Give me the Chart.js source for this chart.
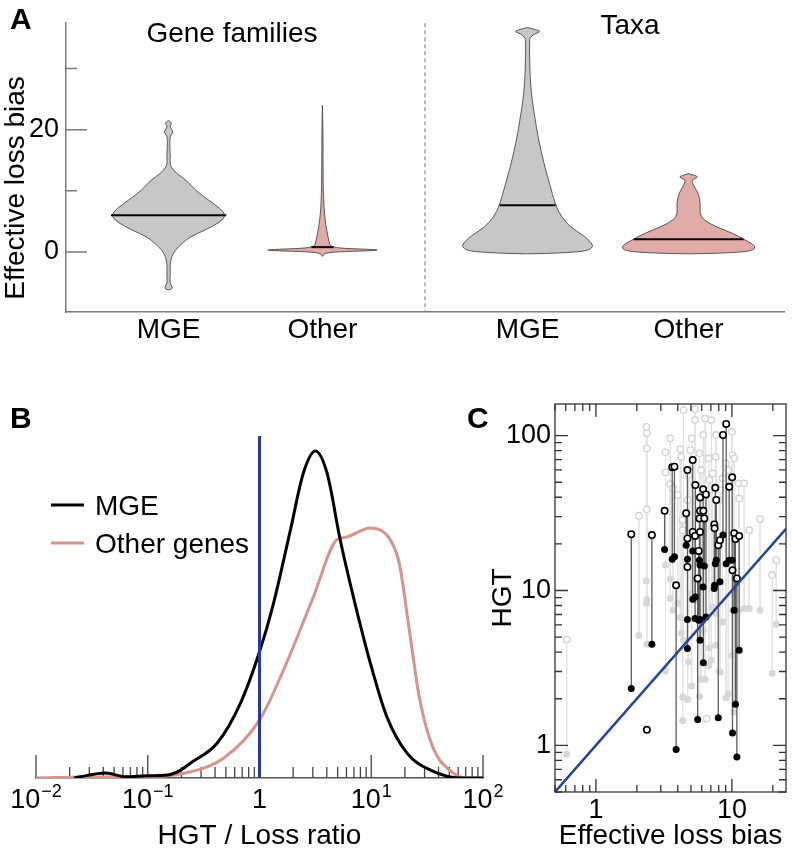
<!DOCTYPE html>
<html>
<head>
<meta charset="utf-8">
<script src="https://cdn.jsdelivr.net/npm/chart.js@4.4.1/dist/chart.umd.min.js"></script>
<style>
body{margin:0;background:#fff}
#wrap{position:relative;width:792px;height:853px;overflow:hidden;background:#fff}
canvas{position:absolute}
</style>
</head>
<body>
<div id="wrap">
<canvas id="panelA" width="792" height="360" style="left:0px;top:0px"></canvas>
<canvas id="panelB" width="510" height="473" style="left:0px;top:380px"></canvas>
<canvas id="panelC" width="332" height="473" style="left:460px;top:380px"></canvas>
</div>
<script>
// ---------- A: effective loss bias violins
const violinGroups = ['MGE', 'Other', 'MGE', 'Other'];
const violinPos = [1, 2.5, 4.5, 6.07];
const violinMedian = [6.0, 0.8, 7.64, 2.11];
const aTitles = ['Gene families', 'Taxa'];
const aTicks = [0, 10, 20, 30];
const aTickLabels = ['0', '', '20', ''];

// levels (top -> bottom) and half widths in x units
const famMgeLevel = [21.5, 21.1, 20.6, 20.2, 19.6, 19.0, 18.2, 16.6, 15.5, 14.7, 13.9, 12.8, 11.7, 10.1, 8.5, 7.1, 6.0, 4.9, 3.6, 2.5, 1.4, 0.3, -0.8, -2.4, -3.5, -5.1, -5.9, -6.3];
const famMgeWidth = [0, .039, .010, .024, .047, .015, .012, .013, .018, .013, .022, .081, .178, .260, .390, .504, .562, .504, .358, .211, .130, .065, .026, .013, .018, .010, .047, 0];
const famOtherLevel = [24, 20, 15, 10.6, 8.5, 6.3, 4.1, 2.5, 1.4, 0.86, 0.6, 0.45, 0.33, 0.2, 0.05, -0.2, -0.5, -0.76];
const famOtherWidth = [0, .005, .006, .008, .012, .019, .036, .054, .068, .081, .195, .439, .565, .439, .146, .019, .010, 0];
const taxaMgeLevel = [36.7, 36.3, 36.0, 35.6, 35.0, 34.5, 32.8, 30.1, 27.4, 24.7, 22, 19.3, 16.6, 13.9, 11.2, 7.6, 5.7, 4.1, 2.8, 1.7, 0.86, 0.2, -0.1, -0.35];
const taxaMgeWidth = [0, .097, .127, .058, .024, .019, .019, .022, .029, .046, .071, .097, .130, .169, .214, .273, .331, .416, .536, .614, .643, .585, .390, 0];
const taxaOtherLevel = [12.8, 12.5, 12.25, 11.9, 11.7, 10.6, 9.5, 7.9, 6.3, 5.2, 4.1, 3.0, 2.1, 1.4, 0.86, 0.2, -0.1, -0.35];
const taxaOtherWidth = [0, .068, .093, .049, .027, .058, .097, .117, .107, .146, .273, .439, .536, .614, .653, .624, .439, 0];

// ---------- B: HGT / loss ratio densities
const bSeriesNames = ['MGE', 'Other genes'];
const bMgeRatio = [0.022, 0.025, 0.042, 0.063, 0.1, 0.15, 0.197, 0.242, 0.419, 0.676, 1, 1.33, 1.89, 2.47, 3.16, 4.02, 5.28, 6.92, 9.8, 13.8, 20.9, 33.9, 63, 100];
const bMgeDensity = [0, 0.004, 0.015, 0.004, 0.007, 0.009, 0.024, 0.046, 0.107, 0.229, 0.386, 0.532, 0.758, 0.933, 1.0, 0.933, 0.728, 0.554, 0.352, 0.187, 0.076, 0.024, 0, 0];
const bOtherRatio = [0.01, 0.032, 0.1, 0.242, 0.479, 1, 1.64, 3.03, 4.9, 6.03, 9.77, 14.8, 17.8, 21.9, 26.9, 35.5, 50.1, 70.8, 100];
const bOtherDensity = [0, 0.003, 0.004, 0.019, 0.061, 0.177, 0.33, 0.553, 0.728, 0.737, 0.765, 0.728, 0.657, 0.453, 0.248, 0.095, 0.024, 0, 0];
const bTicks = [0.01, 0.1, 1, 10, 100];
const bTickLabels = ['10^-2', '10^-1', '1', '10^1', '10^2'];

// ---------- C: HGT vs effective loss bias
const cMgeBias = [1.82, 2.58, 3.20, 3.64, 3.78, 3.89, 4.61, 4.71, 4.71, 4.71, 5.15, 5.15, 5.36, 5.39, 5.60, 5.70, 5.77, 5.83, 5.83, 5.83, 6.14, 6.17, 6.27, 6.45, 7.42, 7.46, 7.55, 7.68, 7.94, 8.17, 8.60, 9.08, 9.56, 10.05, 10.10, 10.39, 10.62, 10.88, 11.31, 2.37];
const cMgeHgtOpen = [23.1, 22.8, 32.7, 62.4, 63.0, 10.8, 31.5, 59.9, 21.7, 14.2, 69.5, 23.9, 22.5, 47.9, 11.96, 18.0, 29.2, 39.9, 32.7, 23.9, 45.0, 32.7, 29.2, 41.7, 26.7, 25.2, 46.0, 38.4, 19.6, 21.1, 100.9, 118.9, 46.7, 53.8, 13.5, 23.4, 21.5, 11.96, 22.5, 1.26];
const cMgeHgtFilled = [2.33, 4.50, 18.4, 15.9, 16.5, 0.94, 19.6, 15.9, 6.49, 4.22, 18.0, 8.79, 6.59, 9.09, 1.47, 6.43, 15.7, 14.6, 6.49, 4.77, 10.55, 3.42, 14.4, 6.75, 10.3, 10.8, 14.9, 15.7, 1.51, 11.4, 22.8, 14.9, 15.7, 15.7, 1.20, 7.46, 1.84, 0.84, 4.11, null];
const cOtherBias = [0.61, 2.07, 2.35, 2.37, 2.37, 2.36, 3.25, 3.25, 3.52, 3.52, 3.68, 4.00, 4.17, 4.24, 4.35, 4.35, 4.73, 4.81, 4.95, 5.06, 5.36, 5.36, 5.77, 5.93, 6.17, 6.35, 6.52, 6.74, 6.82, 7.21, 7.59, 7.64, 8.07, 8.21, 8.54, 9.04, 9.40, 10.0, 10.1, 10.4, 11.2, 11.3, 12.3, 13.4, 16.1, 19.8, 21.2, 4.40, 7.06];
const cOtherHgtOpen = [4.82, 30.4, 114, 103.5, 82.8, 33.5, 78, 57.9, 96, 48.7, 45.6, 41.3, 81.9, 73, 28.5, 24.5, 38.3, 55.6, 80.7, 96, 148, 126, 76.8, 60, 101, 129, 1.49, 71.3, 51.6, 57, 73, 101, 38.3, 44.5, 53, 66.2, 60, 106, 74.9, 71.3, 49.2, 39.3, 49.2, 24.5, 28.9, 12.6, 15.7, 146, 126];
const cOtherHgtFilled = [0.875, 5.12, 11.5, 8.75, 4.50, 8.24, 14.6, 3.02, 11.8, 8.87, 7.46, 8.24, 6.69, 5.27, 2.05, 1.45, 1.98, 3.46, 9.56, 2.42, 11.7, 8.66, 2.07, 2.67, 5.54, 2.67, null, 3.25, 4.26, 7.83, 4.43, 7.10, 3.01, 2.98, 6.27, 2.03, 2.16, 3.82, 7.46, 1.64, 7.46, 4.16, 7.65, 7.65, 7.46, 2.92, 6.06, 4.77, 3.54];
const cTicksX = [1, 10];
const cTickLabelsX = ['1', '10'];
const cTicksY = [1, 10, 100];
const cTickLabelsY = ['1', '10', '100'];

const FAM = '"Liberation Sans", Arial, sans-serif';
const font = (s, w) => (w || '') + ' ' + s + 'px ' + FAM;
Chart.defaults.font.family = FAM;
Chart.defaults.color = '#000';

// helpers
function logTicks(min, max) {
  const out = [];
  for (let d = -3; d <= 3; d++) for (let m = 1; m <= 9; m++) {
    const v = m * Math.pow(10, d);
    if (v >= min * 0.999 && v <= max * 1.001) out.push({v: v, major: m === 1});
  }
  return out;
}

function textPlugin(items) {
  return {
    id: 'texts',
    afterDraw(chart) {
      const ctx = chart.ctx;
      items.forEach(t => {
        ctx.save();
        ctx.font = t.font;
        ctx.fillStyle = '#000';
        ctx.textAlign = t.align || 'left';
        ctx.textBaseline = t.baseline || 'alphabetic';
        ctx.translate(t.x, t.y);
        if (t.rotate) ctx.rotate(t.rotate);
        ctx.fillText(t.text, 0, 0);
        ctx.restore();
      });
    }
  };
}

function smoothPath(ctx, pts) {
  ctx.moveTo(pts[0][0], pts[0][1]);
  for (let i = 1; i < pts.length - 1; i++) {
    const mx = (pts[i][0] + pts[i + 1][0]) / 2, my = (pts[i][1] + pts[i + 1][1]) / 2;
    ctx.quadraticCurveTo(pts[i][0], pts[i][1], mx, my);
  }
  ctx.lineTo(pts[pts.length - 1][0], pts[pts.length - 1][1]);
}

function widthAt(level, width, v) {
  for (let i = 0; i < level.length - 1; i++) {
    if (level[i] >= v && level[i + 1] <= v) {
      const t = (level[i] - v) / (level[i] - level[i + 1]);
      return width[i] + t * (width[i + 1] - width[i]);
    }
  }
  return 0;
}

// ---------- panel A
const violins = [
  {level: famMgeLevel, width: famMgeWidth, fill: '#c9c7c5'},
  {level: famOtherLevel, width: famOtherWidth, fill: '#dfaca7'},
  {level: taxaMgeLevel, width: taxaMgeWidth, fill: '#c9c7c5'},
  {level: taxaOtherLevel, width: taxaOtherWidth, fill: '#dfaca7'}
];

const violinPlugin = {
  id: 'violins',
  beforeDatasetsDraw(chart) {
    const {ctx, scales: {x, y}} = chart;
    const unit = x.getPixelForValue(1) - x.getPixelForValue(0);
    ctx.save();
    violins.forEach((v, k) => {
      const cx = x.getPixelForValue(violinPos[k]);
      const pts = [];
      v.level.forEach((l, i) => pts.push([cx + v.width[i] * unit, y.getPixelForValue(l)]));
      for (let i = v.level.length - 2; i >= 0; i--) pts.push([cx - v.width[i] * unit, y.getPixelForValue(v.level[i])]);
      ctx.beginPath();
      smoothPath(ctx, pts);
      ctx.closePath();
      ctx.fillStyle = v.fill;
      ctx.fill();
      ctx.strokeStyle = '#4a4a4a';
      ctx.lineWidth = 0.9;
      ctx.stroke();
      const mw = widthAt(v.level, v.width, violinMedian[k]) * unit;
      const my = y.getPixelForValue(violinMedian[k]);
      ctx.beginPath();
      ctx.moveTo(cx - mw, my);
      ctx.lineTo(cx + mw, my);
      ctx.strokeStyle = '#000';
      ctx.lineWidth = 2;
      ctx.stroke();
    });
    ctx.restore();
  }
};

const aAxisDecor = {
  id: 'aAxisDecor',
  afterDraw(chart) {
    const {ctx, chartArea: a, scales: {x, y}} = chart;
    ctx.save();
    ctx.strokeStyle = '#7a7a7a';
    ctx.lineWidth = 1.5;
    ctx.beginPath();
    aTicks.forEach((v, i) => {
      const py = y.getPixelForValue(v);
      ctx.moveTo(a.left, py);
      ctx.lineTo(a.left + (aTickLabels[i] ? 21 : 11), py);
    });
    ctx.stroke();
    // divider between gene families and taxa
    const sx = x.getPixelForValue((violinPos[1] + violinPos[2]) / 2);
    ctx.setLineDash([4, 3]);
    ctx.strokeStyle = '#8a8a8a';
    ctx.lineWidth = 1.2;
    ctx.beginPath();
    ctx.moveTo(sx, a.top);
    ctx.lineTo(sx, a.bottom);
    ctx.stroke();
    ctx.restore();
  }
};

new Chart(document.getElementById('panelA'), {
  type: 'scatter',
  data: {datasets: []},
  options: {
    responsive: false,
    animation: false,
    layout: {padding: {left: 0, top: 22, right: 8, bottom: 0}},
    plugins: {legend: {display: false}, tooltip: {enabled: false}},
    scales: {
      x: {
        type: 'linear', min: 0, max: 7,
        grid: {display: false, drawTicks: false},
        border: {color: '#7a7a7a', width: 1.5},
        afterBuildTicks: s => { s.ticks = violinPos.map(v => ({value: v})); },
        afterFit: s => { s.height = 48; },
        ticks: {padding: 1, autoSkip: false, maxRotation: 0, font: {size: 28}, callback: (v, i) => violinGroups[i]}
      },
      y: {
        type: 'linear', min: -9.8, max: 37.4,
        grid: {display: false, drawTicks: false},
        border: {color: '#7a7a7a', width: 1.5},
        afterBuildTicks: s => { s.ticks = aTicks.map(v => ({value: v})); },
        afterFit: s => { s.width = 66; },
        ticks: {padding: 7, autoSkip: false, font: {size: 27}, callback: (v, i) => aTickLabels[i]}
      }
    }
  },
  plugins: [violinPlugin, aAxisDecor, textPlugin([
    {text: 'A', x: 10, y: 29, font: font(30, 'bold')},
    {text: aTitles[0], x: 232, y: 42, font: font(28), align: 'center'},
    {text: aTitles[1], x: 630, y: 34, font: font(28), align: 'center'},
    {text: 'Effective loss bias', x: 16, y: 188, font: font(28), align: 'center', baseline: 'middle', rotate: -Math.PI / 2}
  ])]
});

// ---------- panel B
const bColors = ['#000000', '#d4958f'];

const bDecor = {
  id: 'bDecor',
  beforeDatasetsDraw(chart) {
    const {ctx, chartArea: a, scales: {x}} = chart;
    ctx.save();
    ctx.strokeStyle = '#444';
    ctx.lineWidth = 1.3;
    ctx.beginPath();
    logTicks(bTicks[0], bTicks[bTicks.length - 1]).forEach(t => {
      const p = x.getPixelForValue(t.v);
      ctx.moveTo(p, a.bottom);
      ctx.lineTo(p, a.bottom - (t.major ? 23 : 11));
    });
    ctx.stroke();
    ctx.restore();
  },
  afterDatasetsDraw(chart) {
    const {ctx, chartArea: a, scales: {x}} = chart;
    ctx.save();
    // ratio = 1 reference line
    const p1 = x.getPixelForValue(1);
    ctx.strokeStyle = '#2a3b8f';
    ctx.lineWidth = 3;
    ctx.beginPath();
    ctx.moveTo(p1, a.top);
    ctx.lineTo(p1, a.bottom);
    ctx.stroke();
    // tick labels with exponents
    ctx.fillStyle = '#000';
    ctx.textAlign = 'left';
    ctx.textBaseline = 'alphabetic';
    bTicks.forEach((v, i) => {
      const parts = bTickLabels[i].split('^');
      const base = parts[0];
      const e = parts[1] ? parts[1].replace('-', '\u2212') : '';
      ctx.font = font(27);
      const wb = ctx.measureText(base).width;
      ctx.font = font(18);
      const we = e ? ctx.measureText(e).width + 1 : 0;
      const left = x.getPixelForValue(v) - (wb + we) / 2;
      ctx.font = font(27);
      ctx.fillText(base, left, a.bottom + 30);
      if (e) {
        ctx.font = font(18);
        ctx.fillText(e, left + wb + 1, a.bottom + 19);
      }
    });
    // legend
    bSeriesNames.forEach((name, i) => {
      const ly = a.top + 69 + i * 38;
      ctx.strokeStyle = bColors[i];
      ctx.lineWidth = 3;
      ctx.beginPath();
      ctx.moveTo(51, ly);
      ctx.lineTo(84, ly);
      ctx.stroke();
      ctx.font = font(28);
      ctx.fillText(name, 95, ly + 10);
    });
    ctx.restore();
  }
};

new Chart(document.getElementById('panelB'), {
  type: 'scatter',
  data: {
    datasets: [
      {label: bSeriesNames[0], data: bMgeRatio.map((r, i) => ({x: r, y: bMgeDensity[i]})), showLine: true, borderColor: bColors[0], borderWidth: 3, pointRadius: 0, cubicInterpolationMode: 'monotone'},
      {label: bSeriesNames[1], data: bOtherRatio.map((r, i) => ({x: r, y: bOtherDensity[i]})), showLine: true, borderColor: bColors[1], borderWidth: 3, pointRadius: 0, cubicInterpolationMode: 'monotone'}
    ]
  },
  options: {
    responsive: false,
    animation: false,
    layout: {padding: {left: 36, right: 27, top: 56, bottom: 0}},
    plugins: {legend: {display: false}, tooltip: {enabled: false}},
    scales: {
      x: {
        type: 'logarithmic', min: bTicks[0], max: bTicks[bTicks.length - 1],
        grid: {display: false, drawTicks: false},
        border: {color: '#555', width: 1.5},
        ticks: {display: false},
        afterFit: s => { s.height = 75; },
        title: {display: true, text: 'HGT / Loss ratio', font: {size: 28}, padding: {top: 0, bottom: 0}}
      },
      y: {type: 'linear', display: false, min: 0, max: 1.046}
    }
  },
  plugins: [bDecor, textPlugin([
    {text: 'B', x: 10, y: 48, font: font(30, 'bold')}
  ])]
});

// ---------- panel C
const pairs = (xs, hi, lo) => xs.flatMap((x, i) => lo[i] == null ? [] : [{x: x, y: hi[i]}, {x: x, y: lo[i]}, {x: x, y: null}]);
const pts = (xs, ys) => xs.map((x, i) => ({x: x, y: ys[i]})).filter(p => p.y != null);
const cMin = 0.5, cMax = 25;

const cDecor = {
  id: 'cDecor',
  afterDraw(chart) {
    const {ctx, chartArea: a, scales: {x, y}} = chart;
    ctx.save();
    ctx.strokeStyle = '#333';
    ctx.lineWidth = 1.3;
    ctx.strokeRect(a.left, a.top, a.right - a.left, a.bottom - a.top);
    ctx.beginPath();
    logTicks(x.min, x.max).forEach(t => {
      const p = x.getPixelForValue(t.v), l = t.major ? 13 : 7;
      ctx.moveTo(p, a.bottom); ctx.lineTo(p, a.bottom - l);
      ctx.moveTo(p, a.top); ctx.lineTo(p, a.top + l);
    });
    logTicks(y.min, y.max).forEach(t => {
      const p = y.getPixelForValue(t.v), l = t.major ? 13 : 7;
      ctx.moveTo(a.left, p); ctx.lineTo(a.left + l, p);
      ctx.moveTo(a.right, p); ctx.lineTo(a.right - l, p);
    });
    ctx.stroke();
    ctx.restore();
  }
};

new Chart(document.getElementById('panelC'), {
  type: 'scatter',
  data: {
    datasets: [
      {data: [{x: cMin, y: cMin}, {x: cMax, y: cMax}], showLine: true, borderColor: '#2c4591', borderWidth: 2.5, pointRadius: 0},
      {data: pts(cMgeBias, cMgeHgtOpen), pointRadius: 3.2, borderWidth: 1.6, borderColor: '#000', backgroundColor: '#fff'},
      {data: pts(cMgeBias, cMgeHgtFilled), pointRadius: 3.5, borderWidth: 0, backgroundColor: '#000'},
      {data: pairs(cMgeBias, cMgeHgtOpen, cMgeHgtFilled), showLine: true, spanGaps: false, borderColor: '#5e5e5e', borderWidth: 1.3, pointRadius: 0},
      {data: pts(cOtherBias, cOtherHgtOpen), pointRadius: 3.2, borderWidth: 1.3, borderColor: '#d2d2d2', backgroundColor: '#fff'},
      {data: pts(cOtherBias, cOtherHgtFilled), pointRadius: 3.5, borderWidth: 0, backgroundColor: '#d8d8d8'},
      {data: pairs(cOtherBias, cOtherHgtOpen, cOtherHgtFilled), showLine: true, spanGaps: false, borderColor: '#e4e4e4', borderWidth: 1, pointRadius: 0}
    ]
  },
  options: {
    responsive: false,
    animation: false,
    layout: {padding: {left: 0, right: 6, top: 24, bottom: 0}},
    plugins: {legend: {display: false}, tooltip: {enabled: false}},
    scales: {
      x: {
        type: 'logarithmic', min: cMin, max: cMax,
        grid: {display: false, drawTicks: false},
        border: {display: false},
        afterBuildTicks: s => { s.ticks = cTicksX.map(v => ({value: v})); },
        afterFit: s => { s.height = 61; },
        ticks: {padding: 2, autoSkip: false, maxRotation: 0, font: {size: 27}, callback: (v, i) => cTickLabelsX[i]},
        title: {display: true, text: 'Effective loss bias', font: {size: 28}, padding: {top: 0, bottom: 0}}
      },
      y: {
        type: 'logarithmic', min: 0.5, max: 160,
        grid: {display: false, drawTicks: false},
        border: {display: false},
        afterBuildTicks: s => { s.ticks = cTicksY.map(v => ({value: v})); },
        afterFit: s => { s.width = 95; },
        ticks: {padding: 4, autoSkip: false, font: {size: 27}, callback: (v, i) => cTickLabelsY[i]},
        title: {display: true, text: 'HGT', font: {size: 28}, padding: {top: 26, bottom: 0}}
      }
    }
  },
  plugins: [cDecor, textPlugin([
    {text: 'C', x: 7, y: 48, font: font(30, 'bold')}
  ])]
});
</script>
</body>
</html>
